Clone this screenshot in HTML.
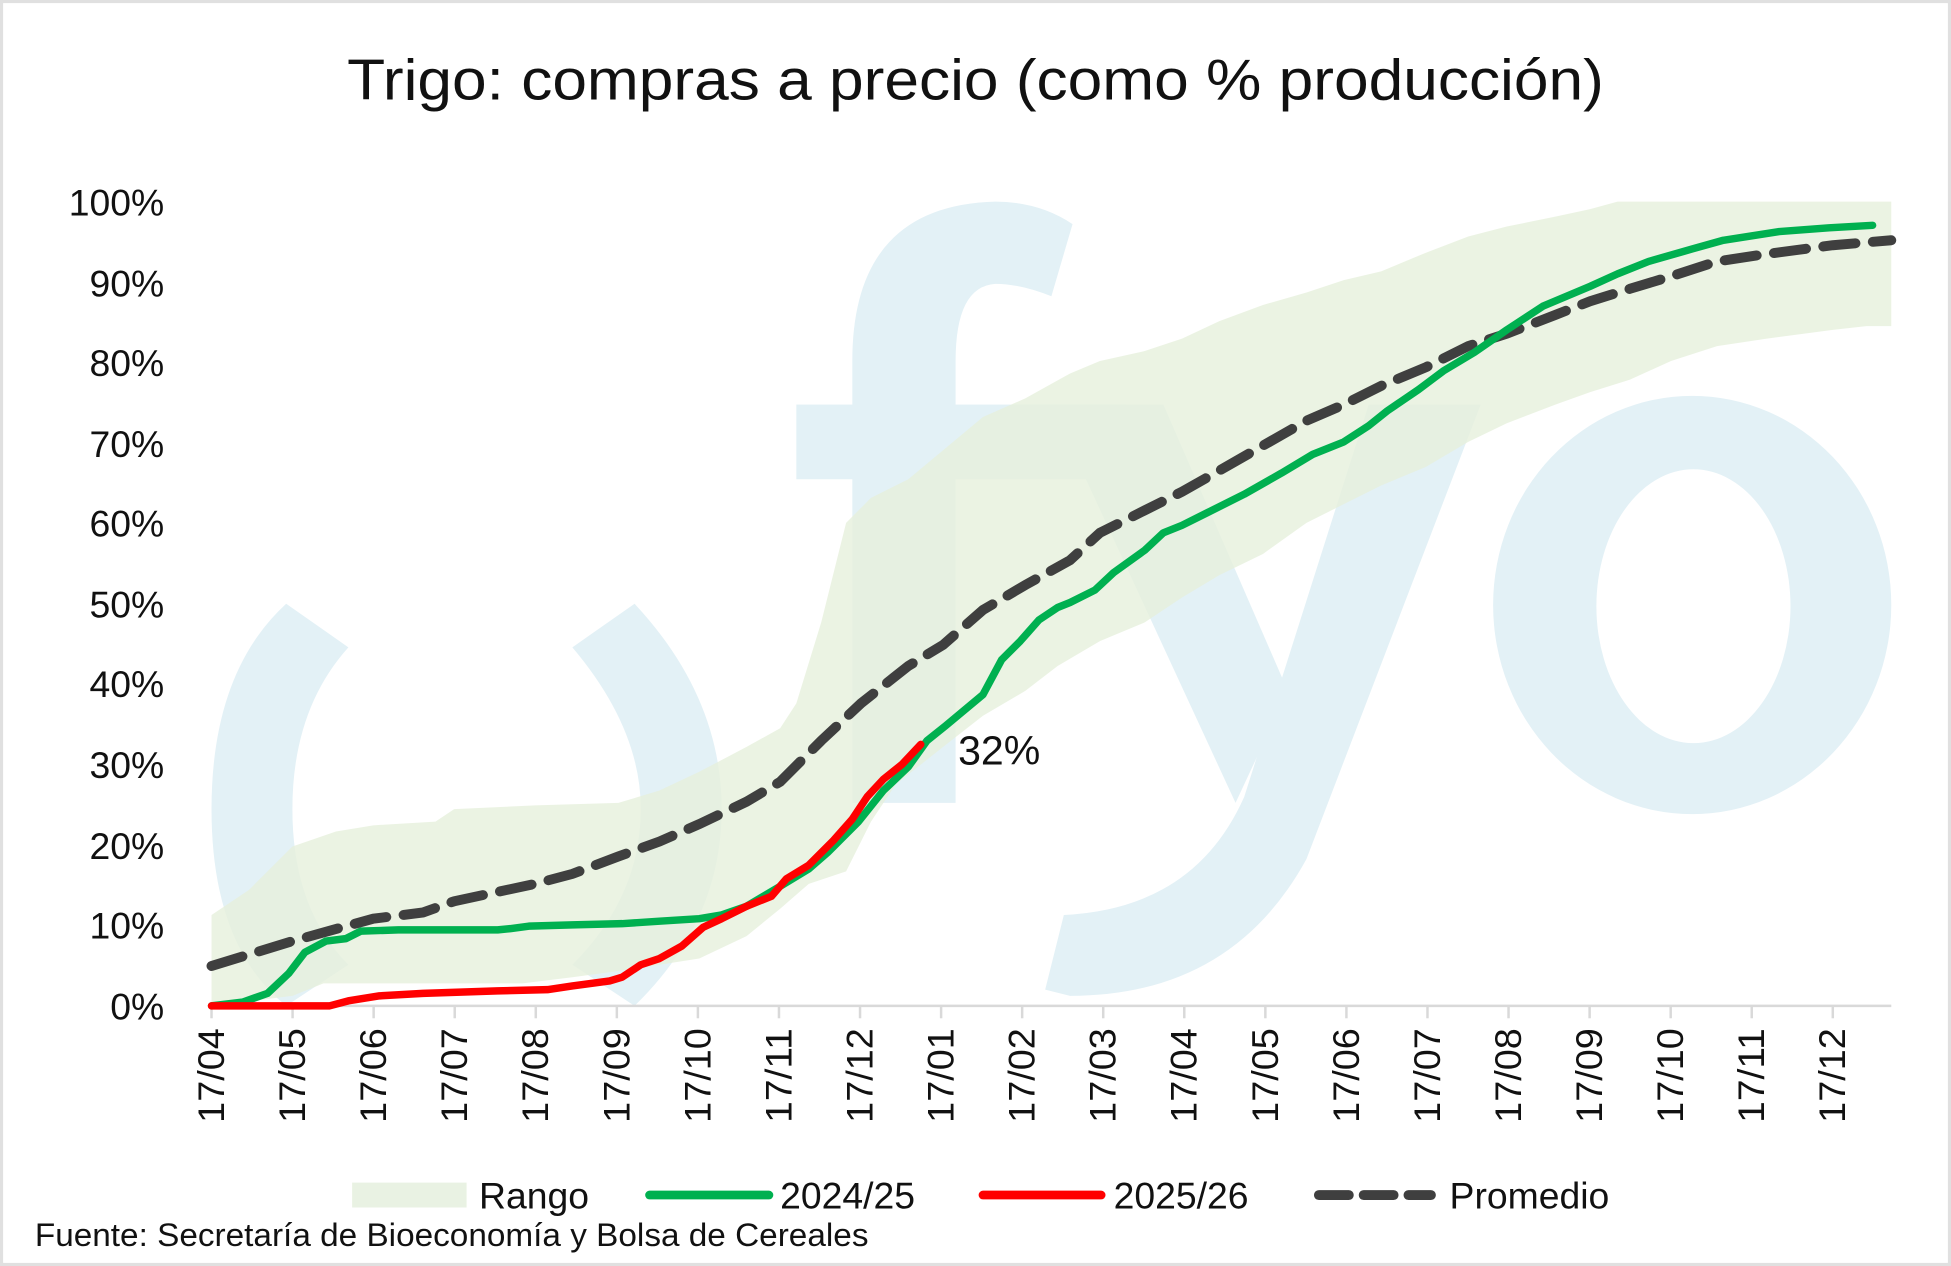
<!DOCTYPE html>
<html><head><meta charset="utf-8"><style>
html,body{margin:0;padding:0;background:#fff}
svg{display:block}
text{font-family:"Liberation Sans",sans-serif;fill:#111}
</style></head><body>
<svg width="1951" height="1266" viewBox="0 0 1568 1017" preserveAspectRatio="none" xmlns="http://www.w3.org/2000/svg">
<rect x="1" y="1" width="1566" height="1015" fill="#fff" stroke="#e0e0e0" stroke-width="3"/>
<text x="784" y="80" text-anchor="middle" font-size="46" textLength="1010" lengthAdjust="spacingAndGlyphs">Trigo: compras a precio (como % producción)</text>
<!-- watermark -->
<g fill="#e3f1f6">
<path d="M230,485 Q170,540 170,650 Q170,760 230,808 L280,775 Q235,730 235,650 Q235,570 280,520 Z"/>
<path d="M510,485 Q580,560 580,650 Q580,740 510,808 L460,775 Q515,720 515,650 Q515,585 460,520 Z"/>
<path d="M685,645 L685,290 Q685,165 800,162 Q835,162 862,180 L845,238 Q820,228 800,228 Q768,230 768,290 L768,645 Z"/>
<rect x="640" y="325" width="265" height="60"/>
<path d="M845,325 L935,325 L1035,555 L993,645 Z"/>
<path d="M1100,325 L1190,325 L1050,690 Q990,800 860,800 L840,795 L855,735 Q960,730 1000,640 Z"/>
<path fill-rule="evenodd" d="M1200,486 A160,168 0 1,0 1520,486 A160,168 0 1,0 1200,486 Z M1283,487 A78,110 0 1,0 1439,487 A78,110 0 1,0 1283,487 Z"/>
</g>
<!-- band -->
<path fill="#e6f0dc" opacity="0.8" d="M170,735 L200,715 L235,680 L270,668 L300,663 L350,660 L365,650 L430,647 L497,645 L530,635 L562,620 L600,600 L627,585 L640,565 L660,500 L680,420 L700,400 L730,385 L760,360 L790,335 L824,320 L860,300 L884,290 L920,282 L950,272 L980,258 L1015,245 L1050,235 L1080,225 L1110,218 L1146,203 L1180,190 L1211,182 L1250,174 L1278,168 L1300,162 L1520,162 L1520,262 L1500,262 L1473,265 L1420,272 L1380,278 L1343,290 L1310,305 L1278,315 L1250,325 L1211,340 L1180,355 L1146,375 L1110,390 L1080,405 L1050,420 L1015,445 L980,462 L950,480 L920,500 L884,515 L850,535 L824,555 L790,575 L758,600 L720,630 L700,660 L680,700 L650,710 L627,730 L600,752 L562,770 L530,775 L497,780 L460,785 L420,790 L300,790 L260,790 L235,800 L170,808 Z"/>
<!-- axis -->
<g stroke="#d9d9d9" stroke-width="2">
<line x1="170" y1="808" x2="1520" y2="808"/>
</g>
<g stroke="#d9d9d9" stroke-width="2" id="ticks"></g>
<g font-size="30" text-anchor="end">
<text x="132" y="173">100%</text><text x="132" y="238">90%</text><text x="132" y="302">80%</text><text x="132" y="367">70%</text><text x="132" y="431">60%</text><text x="132" y="496">50%</text><text x="132" y="560">40%</text><text x="132" y="625">30%</text><text x="132" y="690">20%</text><text x="132" y="754">10%</text><text x="132" y="819">0%</text>
</g>
<g id="xl" font-size="30"></g>
<!-- series -->
<polyline fill="none" stroke="#3f3f3f" stroke-width="8" stroke-dasharray="26,14" stroke-linecap="round" points="170,776 235,756 300,738 340,733 365,724 430,710 460,702 497,688 530,676 562,662 600,644 627,628 660,595 692,565 730,535 758,518 790,490 824,470 860,450 884,428 920,410 950,395 980,378 1015,358 1050,338 1080,325 1110,310 1146,295 1180,278 1211,268 1250,253 1278,242 1310,232 1343,222 1380,210 1420,204 1473,197 1520,193"/>
<polyline fill="none" stroke="#00b050" stroke-width="6" stroke-linejoin="round" stroke-linecap="round" points="170,808 195,805 215,798 232,782 245,765 262,756 278,754 290,748 320,747 400,747 410,746 425,744 460,743 500,742 530,740 562,738 580,735 600,728 627,712 650,698 665,685 690,660 710,635 730,616 745,595 760,583 790,558 805,530 820,515 835,498 850,488 860,484 880,474 895,460 920,442 935,428 950,422 970,412 1000,397 1030,380 1055,365 1080,355 1100,342 1115,330 1140,313 1160,298 1185,283 1211,265 1240,246 1278,230 1300,220 1325,210 1360,200 1385,193 1430,186 1470,183 1505,181"/>
<polyline fill="none" stroke="#ff0000" stroke-width="6" stroke-linejoin="round" stroke-linecap="round" points="170,808 265,808 280,804 305,800 340,798 400,796 440,795 460,792 490,788 500,785 515,775 530,770 548,760 565,745 580,738 600,728 620,720 632,706 650,695 670,675 685,658 697,640 710,626 725,614 740,598"/>
<text x="770" y="614" font-size="33">32%</text>
<!-- legend -->
<rect x="283" y="950" width="92" height="20" fill="#e9f2e3"/>
<text x="385" y="971" font-size="30">Rango</text>
<line x1="522" y1="960" x2="618" y2="960" stroke="#00b050" stroke-width="7" stroke-linecap="round"/>
<text x="627" y="971" font-size="30">2024/25</text>
<line x1="790" y1="960" x2="885" y2="960" stroke="#ff0000" stroke-width="7" stroke-linecap="round"/>
<text x="895" y="971" font-size="30">2025/26</text>
<line x1="1060" y1="960" x2="1150" y2="960" stroke="#3f3f3f" stroke-width="8" stroke-dasharray="24,12" stroke-linecap="round"/>
<text x="1165" y="971" font-size="30">Promedio</text>
<text x="28" y="1001" font-size="26" textLength="670" lengthAdjust="spacingAndGlyphs">Fuente: Secretaría de Bioeconomía y Bolsa de Cereales</text>
</svg>
<script>
var labs=["17/04","17/05","17/06","17/07","17/08","17/09","17/10","17/11","17/12","17/01","17/02","17/03","17/04","17/05","17/06","17/07","17/08","17/09","17/10","17/11","17/12"];
var ns="http://www.w3.org/2000/svg",t=document.getElementById("ticks"),xl=document.getElementById("xl");
labs.forEach(function(l,i){var x=170+i*65.15;
var ln=document.createElementNS(ns,"line");ln.setAttribute("x1",x);ln.setAttribute("x2",x);ln.setAttribute("y1",808);ln.setAttribute("y2",818);t.appendChild(ln);
var tx=document.createElementNS(ns,"text");tx.setAttribute("text-anchor","end");tx.setAttribute("transform","translate("+(x+10)+",826) rotate(-90)");tx.setAttribute("textLength","76");tx.setAttribute("lengthAdjust","spacingAndGlyphs");tx.textContent=l;xl.appendChild(tx);});
</script>
</body></html>
